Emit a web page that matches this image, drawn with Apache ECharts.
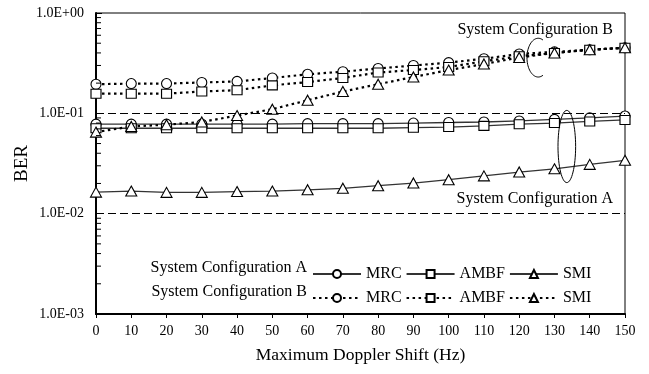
<!DOCTYPE html>
<html>
<head>
<meta charset="utf-8">
<script src="https://cdn.jsdelivr.net/npm/echarts@6/dist/echarts.min.js"></script>
<style>
html, body { margin: 0; padding: 0; background: #fff; }
#chart { width: 649px; height: 374px; }
</style>
</head>
<body>
<div id="chart"></div>
<script>
// Maximum Doppler shift (Hz)
const dopplerShift = [0, 10, 20, 30, 40, 50, 60, 70, 80, 90, 100, 110, 120, 130, 140, 150];

// BER, system configuration A
const aMRC  = [0.078, 0.078, 0.078, 0.078, 0.078, 0.078, 0.079, 0.079, 0.079, 0.080, 0.081, 0.082, 0.084, 0.087, 0.090, 0.094];
const aAMBF = [0.071, 0.071, 0.071, 0.071, 0.071, 0.071, 0.071, 0.071, 0.071, 0.072, 0.073, 0.075, 0.078, 0.080, 0.083, 0.086];
const aSMI  = [0.0164, 0.0168, 0.0163, 0.0163, 0.0166, 0.0168, 0.0173, 0.0179, 0.019, 0.0202, 0.0218, 0.0238, 0.026, 0.028, 0.031, 0.034];

// BER, system configuration B
const bMRC  = [0.195, 0.198, 0.198, 0.203, 0.208, 0.225, 0.245, 0.26, 0.28, 0.30, 0.32, 0.35, 0.39, 0.41, 0.43, 0.45];
const bAMBF = [0.157, 0.157, 0.157, 0.165, 0.170, 0.19, 0.205, 0.225, 0.255, 0.27, 0.29, 0.33, 0.37, 0.40, 0.43, 0.45];
const bSMI  = [0.065, 0.074, 0.077, 0.082, 0.095, 0.11, 0.135, 0.165, 0.195, 0.23, 0.27, 0.31, 0.36, 0.40, 0.43, 0.45];

// Reference levels and log minor ticks on the BER axis
const refLevels = [0.1, 0.01];
const minorTickValues = [
  0.002, 0.003, 0.004, 0.005, 0.006, 0.007, 0.008, 0.009,
  0.02, 0.03, 0.04, 0.05, 0.06, 0.07, 0.08, 0.09,
  0.2, 0.3, 0.4, 0.5, 0.6, 0.7, 0.8, 0.9
];

const FONT = '"Liberation Serif", "Times New Roman", serif';

function sciLabel(v) {
  const e = Math.round(Math.log10(v));
  return '1.0E' + (e < 0 ? '-' : '+') + String(Math.abs(e)).padStart(2, '0');
}

function pairs(ys) {
  return dopplerShift.map((x, i) => [x, ys[i]]);
}

const solidLine = { color: '#333', width: 1.3, type: 'solid' };
const dottedLine = { color: '#000', width: 2.2, type: [2.5, 3.5], cap: 'butt' };
const markerStyle = { color: '#fff', borderColor: '#000', borderWidth: 1.1 };

function makeSeries(name, ys, symbol, line, size) {
  return {
    name: name,
    type: 'line',
    data: pairs(ys),
    symbol: symbol,
    symbolSize: size,
    showSymbol: true,
    lineStyle: line,
    itemStyle: markerStyle,
    emphasis: { disabled: true },
    z: 3
  };
}

const chart = echarts.init(document.getElementById('chart'), null, { renderer: 'canvas' });

const seriesList = [
  makeSeries('A MRC', aMRC, 'circle', solidLine, [10, 10]),
  makeSeries('A AMBF', aAMBF, 'rect', solidLine, [10, 9]),
  makeSeries('A SMI', aSMI, 'triangle', solidLine, [11, 10]),
  makeSeries('B MRC', bMRC, 'circle', dottedLine, [10, 10]),
  makeSeries('B AMBF', bAMBF, 'rect', dottedLine, [10, 9]),
  makeSeries('B SMI', bSMI, 'triangle', dottedLine, [11, 10])
];

// dashed reference levels
seriesList[0].markLine = {
  silent: true,
  symbol: 'none',
  label: { show: false },
  lineStyle: { color: '#000', width: 1, type: [8, 4] },
  data: refLevels.map(v => ({ yAxis: v }))
};

// minor ticks of the log axis, drawn inward from the left axis
seriesList.push({
  type: 'custom',
  name: 'minorTicks',
  data: minorTickValues.map(v => [0, v]),
  silent: true,
  z: 5,
  renderItem: function (params, api) {
    const p = api.coord([api.value(0), api.value(1)]);
    return {
      type: 'line',
      shape: { x1: p[0], y1: p[1], x2: p[0] + 5, y2: p[1] },
      style: { stroke: '#000', lineWidth: 1 }
    };
  }
});

const legendCommon = {
  orient: 'horizontal',
  itemWidth: 48,
  itemHeight: 10,
  itemGap: 4,
  selectedMode: false,
  formatter: n => n.slice(2),
  textStyle: { fontFamily: FONT, fontSize: 16, color: '#000', width: 45 }
};

chart.setOption({
  animation: false,
  backgroundColor: '#fff',
  grid: {
    left: 96, right: 24, top: 13, bottom: 60,
    show: true, borderColor: '#000', borderWidth: 1, backgroundColor: 'transparent'
  },
  legend: [
    Object.assign({ data: ['A MRC', 'A AMBF', 'A SMI'], left: 307, top: 261 }, legendCommon),
    Object.assign({ data: ['B MRC', 'B AMBF', 'B SMI'], left: 307, top: 285 }, legendCommon)
  ],
  xAxis: {
    type: 'value',
    min: 0, max: 150, interval: 10,
    name: 'Maximum Doppler Shift (Hz)',
    nameLocation: 'middle',
    nameGap: 32,
    nameTextStyle: { fontFamily: FONT, fontSize: 17.5, color: '#000' },
    axisLine: { show: true, onZero: false, lineStyle: { color: '#000', width: 2 } },
    axisTick: { show: true, inside: false, length: 4, lineStyle: { color: '#000', width: 1 } },
    axisLabel: { fontFamily: FONT, fontSize: 14, color: '#000', margin: 10 },
    splitLine: { show: false }
  },
  yAxis: {
    type: 'log',
    logBase: 10,
    min: 0.001, max: 1,
    name: 'BER',
    nameLocation: 'middle',
    nameGap: 64,
    nameMoveOverlap: false,
    nameTextStyle: { fontFamily: FONT, fontSize: 19, color: '#000' },
    axisLine: { show: true, lineStyle: { color: '#000', width: 2 } },
    axisTick: { show: true, inside: true, length: 6, lineStyle: { color: '#000', width: 1 } },
    axisLabel: { fontFamily: FONT, fontSize: 14, color: '#000', margin: 12, formatter: sciLabel },
    splitLine: { show: false }
  },
  series: seriesList
});

// Annotations anchored in data coordinates
function px(x, y) { return chart.convertToPixel({ gridIndex: 0 }, [x, y]); }

const ellA_tl = px(131, 0.107), ellA_br = px(136, 0.0204);
const ellA = {
  cx: (ellA_tl[0] + ellA_br[0]) / 2, cy: (ellA_tl[1] + ellA_br[1]) / 2,
  rx: (ellA_br[0] - ellA_tl[0]) / 2, ry: (ellA_br[1] - ellA_tl[1]) / 2
};

const ellB_tl = px(122.2, 0.56), ellB_br = px(128.6, 0.23);
const ellB = {
  cx: (ellB_tl[0] + ellB_br[0]) / 2, cy: (ellB_tl[1] + ellB_br[1]) / 2,
  rx: (ellB_br[0] - ellB_tl[0]) / 2, ry: (ellB_br[1] - ellB_tl[1]) / 2
};
const arcPts = [];
for (let deg = -65; deg >= -295; deg -= 5) {
  const t = deg * Math.PI / 180;
  arcPts.push([ellB.cx + ellB.rx * Math.cos(t), ellB.cy + ellB.ry * Math.sin(t)]);
}

const labelB = px(146.6, 0.68);
const labelA = px(146.6, 0.0142);

chart.setOption({
  graphic: [
    {
      type: 'ellipse',
      shape: ellA,
      style: { fill: 'none', stroke: '#000', lineWidth: 1 },
      silent: true, z: 10
    },
    {
      type: 'polyline',
      shape: { points: arcPts },
      style: { fill: 'none', stroke: '#000', lineWidth: 1 },
      silent: true, z: 10
    },
    {
      type: 'text',
      x: labelB[0], y: labelB[1],
      style: { text: 'System Configuration B', font: '16px ' + FONT, fill: '#000', align: 'right', verticalAlign: 'middle' },
      silent: true, z: 10
    },
    {
      type: 'text',
      x: labelA[0], y: labelA[1],
      style: { text: 'System Configuration A', font: '16px ' + FONT, fill: '#000', align: 'right', verticalAlign: 'middle' },
      silent: true, z: 10
    },
    {
      type: 'text',
      x: 307, y: 268,
      style: { text: 'System Configuration A', font: '16px ' + FONT, fill: '#000', align: 'right', verticalAlign: 'middle' },
      silent: true, z: 10
    },
    {
      type: 'text',
      x: 307, y: 292,
      style: { text: 'System Configuration B', font: '16px ' + FONT, fill: '#000', align: 'right', verticalAlign: 'middle' },
      silent: true, z: 10
    }
  ]
});
</script>
</body>
</html>
